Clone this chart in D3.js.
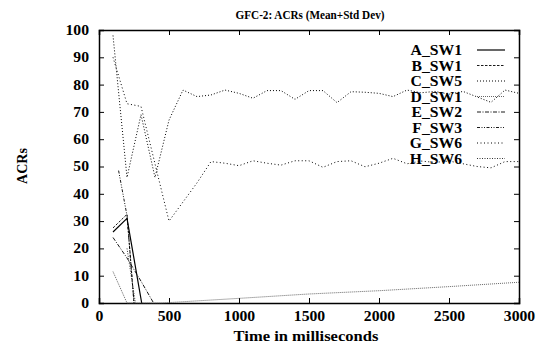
<!DOCTYPE html>
<html>
<head>
<meta charset="utf-8">
<script src="https://cdn.jsdelivr.net/npm/d3@7"></script>
<style>
  body { margin: 0; background: #fff; }
  text { font-family: "Liberation Serif", "Times New Roman", serif; font-weight: bold; }
</style>
</head>
<body>
<div class="svg"></div>
<script>
var xTicks = [0, 500, 1000, 1500, 2000, 2500, 3000];
var yTicks = [0, 10, 20, 30, 40, 50, 60, 70, 80, 90, 100];
var seriesNames = ["A_SW1", "B_SW1", "C_SW5", "D_SW1", "E_SW2", "F_SW3", "G_SW6", "H_SW6"];

var timesA = [100, 200, 305];
var valuesA = [26, 31, 0];
var timesB = [100, 200, 250];
var valuesB = [27.5, 32.5, 0];
var timesC = [100, 200, 300, 400, 500, 600, 700, 800, 900, 1000, 1100, 1200, 1300, 1400, 1500,
  1600, 1700, 1800, 1900, 2000, 2100, 2200, 2300, 2400, 2500, 2600, 2700, 2800, 2900, 3000];
var valuesC = [98, 46, 69, 46, 67, 78, 75.6, 76.2, 78, 76.8, 75, 77.8, 77.8, 74.6, 77.8,
  77.8, 73.4, 77.4, 77.2, 76.8, 75.6, 78, 77, 77.5, 76.5, 77.5, 75.5, 73.5, 78, 76.8];
var timesD = [100, 200, 450, 1000, 1500, 2000, 2500, 3000];
var valuesD = [11.5, 0, 0, 1.7, 3.3, 4.5, 6.0, 7.6];
var timesE = [100, 200, 300, 390];
var valuesE = [24, 16.5, 8, 0];
var timesF = [140, 200, 250];
var valuesF = [48.5, 32, 0];
var timesG = [100, 200, 300, 400, 500, 600, 700, 800, 900, 1000, 1100, 1200, 1300, 1400, 1500,
  1600, 1700, 1800, 1900, 2000, 2100, 2200, 2300, 2400, 2500, 2600, 2700, 2800, 2900, 3000];
var valuesG = [90, 73, 72, 51, 30, 37, 44, 51.8, 51.2, 50.3, 52.1, 51.2, 50.5, 52.1, 52.1,
  49.7, 51.8, 52.1, 49.9, 51.2, 53, 51, 52, 51.5, 52, 51, 50, 49.5, 51.8, 51.8];
var timesH = [200, 260];
var valuesH = [20, 0];

var seriesTimes = [timesA, timesB, timesC, timesD, timesE, timesF, timesG, timesH];
var seriesValues = [valuesA, valuesB, valuesC, valuesD, valuesE, valuesF, valuesG, valuesH];

function acrChart(settings) {
  for (var k in acrChart.defaults) this[k] = acrChart.defaults[k];
  for (var s in settings) this[s] = settings[s];
  this.appendSvg('div.svg');
  this.drawFrame();
  this.drawLines();
  this.drawLegend();
  this.drawLabels();
}

acrChart.defaults = {
  'svg_width': 540,
  'svg_height': 350,
  'left': 99, 'right': 519, 'top': 30, 'bottom': 303
};

// line styles, roughly like the old gnuplot postscript dashes
acrChart.styles = [
  { dash: null,        color: '#000', width: 1.2 },
  { dash: '2.5,1.5',   color: '#000', width: 0.9 },
  { dash: '1,2',       color: '#000', width: 1 },
  { dash: '1,1',       color: '#555', width: 0.9 },
  { dash: '4,1.5,1,1.5', color: '#000', width: 0.9 },
  { dash: '3,1.5,1,1.5,1,1.5', color: '#000', width: 0.9 },
  { dash: '1,2.5',     color: '#000', width: 1 },
  { dash: '1,1.5',     color: '#333', width: 1 }
];

// the ps fonts in the original are a bit wider than Liberation Serif
function stretchText(sel, f) {
  sel.each(function () {
    var len = this.getComputedTextLength();
    d3.select(this).attr('textLength', len * f).attr('lengthAdjust', 'spacingAndGlyphs');
  });
}

acrChart.prototype.appendSvg = function (selector) {
  this.svg = d3.select(selector || 'body')
    .append('svg')
    .attr('width', this.svg_width)
    .attr('height', this.svg_height);
  this.x = d3.scaleLinear().domain([0, 3000]).range([this.left, this.right]);
  this.y = d3.scaleLinear().domain([0, 100]).range([this.bottom, this.top]);
};

acrChart.prototype.drawFrame = function () {
  var svg = this.svg;
  svg.append('g')
    .attr('transform', 'translate(0,' + this.bottom + ')')
    .call(d3.axisBottom(this.x).tickValues(xTicks).tickSize(-5).tickPadding(8).tickFormat(d3.format('d')))
    .attr('class', 'ax');
  svg.append('g')
    .attr('transform', 'translate(0,' + this.top + ')')
    .call(d3.axisTop(this.x).tickValues(xTicks).tickSize(-5).tickFormat(''))
    .attr('class', 'ax');
  svg.append('g')
    .attr('transform', 'translate(' + this.left + ',0)')
    .call(d3.axisLeft(this.y).tickValues(yTicks).tickSize(-5).tickPadding(10))
    .attr('class', 'ax');
  svg.append('g')
    .attr('transform', 'translate(' + this.right + ',0)')
    .call(d3.axisRight(this.y).tickValues(yTicks).tickSize(-5).tickFormat(''))
    .attr('class', 'ax');
  svg.selectAll('.ax path').attr('stroke', '#000').attr('stroke-width', 1.5);
  svg.selectAll('.ax line').attr('stroke', '#000').attr('stroke-width', 1);
  svg.selectAll('.ax text')
    .attr('fill', '#000')
    .attr('font-size', '14px')
    .attr('font-family', '"Liberation Serif", serif')
    .attr('font-weight', 'bold');
  stretchText(svg.selectAll('.ax text'), 1.12);
};

acrChart.prototype.drawLines = function () {
  var _self = this;
  var line = d3.line()
    .x(function (d) { return _self.x(d[0]); })
    .y(function (d) { return _self.y(d[1]); });
  seriesTimes.forEach(function (ts, i) {
    var pts = ts.map(function (t, j) { return [t, seriesValues[i][j]]; });
    var st = acrChart.styles[i];
    _self.svg.append('path')
      .datum(pts)
      .attr('d', line)
      .attr('fill', 'none')
      .attr('stroke', st.color)
      .attr('stroke-width', st.width)
      .attr('stroke-dasharray', st.dash);
  });
};

acrChart.prototype.drawLegend = function () {
  var svg = this.svg;
  var g = svg.append('g');
  seriesNames.forEach(function (name, i) {
    var yy = 50 + i * 15.5;
    var st = acrChart.styles[i];
    g.append('text')
      .attr('x', 462)
      .attr('y', yy + 5)
      .attr('text-anchor', 'end')
      .attr('font-size', '14px')
      .text(name);
    g.append('line')
      .attr('x1', 477).attr('x2', 505)
      .attr('y1', yy).attr('y2', yy)
      .attr('stroke', st.color)
      .attr('stroke-width', st.width)
      .attr('stroke-dasharray', st.dash);
  });
  stretchText(g.selectAll('text'), 1.12);
};

acrChart.prototype.drawLabels = function () {
  var svg = this.svg;
  var t = svg.append('text')
    .attr('x', 310).attr('y', 19)
    .attr('text-anchor', 'middle')
    .attr('font-size', '13px')
    .text('GFC-2: ACRs (Mean+Std Dev)');
  stretchText(t, 0.86);
  var xl = svg.append('text')
    .attr('x', 306).attr('y', 341)
    .attr('text-anchor', 'middle')
    .attr('font-size', '14px')
    .text('Time in milliseconds');
  stretchText(xl, 1.18);
  svg.append('text')
    .attr('transform', 'translate(27,166) rotate(-90)')
    .attr('text-anchor', 'middle')
    .attr('font-size', '14px')
    .text('ACRs');
};

var chart = new acrChart({});
</script>
</body>
</html>
